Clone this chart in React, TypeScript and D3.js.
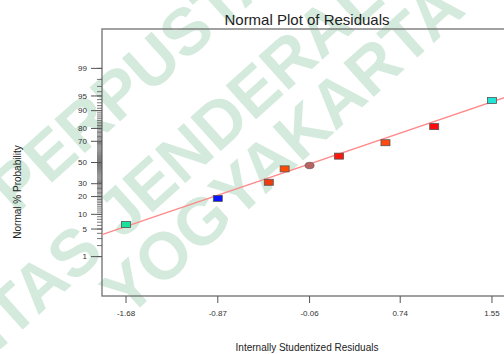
import React from "react";
import * as d3 from "d3";

// internally studentized residuals and their normal % probability
const residuals = [-1.68, -0.87, -0.42, -0.28, -0.06, 0.2, 0.61, 1.04, 1.55];
const probability = [6.25, 18.75, 31.25, 43.75, 47, 56.25, 68.75, 81.25, 93.75];
const pointColors = ["#19e39a", "#0a14ff", "#f03c0c", "#ff4a00", "#b86262", "#ff1608", "#ff4a10", "#ff0a0a", "#1ee6d6"];
const pointShapes = ["rect", "rect", "rect", "rect", "circle", "rect", "rect", "rect", "rect"];

const xTicks = [-1.68, -0.87, -0.06, 0.74, 1.55];
const yLabelTicks = [1, 5, 10, 20, 30, 50, 70, 80, 90, 95, 99];
const yMinorTicks = d3.range(1, 100);

// fitted normal line (z = a + b * residual)
const fitIntercept = 0.02;
const fitSlope = 0.954;

const watermarkColor = "#d3eadd";

// inverse normal cdf (Acklam)
function probit(p: number): number {
  const a = [-39.69683028665376, 220.9460984245205, -275.9285104469687, 138.357751867269, -30.66479806614716, 2.506628277459239];
  const b = [-54.47609879822406, 161.5858368580409, -155.6989798598866, 66.80131188771972, -13.28068155288572];
  const c = [-0.007784894002430293, -0.3223964580411365, -2.400758277161838, -2.549732539343734, 4.374664141464968, 2.938163982698783];
  const d = [0.007784695709041462, 0.3224671290700398, 2.445134137142996, 3.754408661907416];
  const pl = 0.02425;
  let q, r;
  if (p < pl) {
    q = Math.sqrt(-2 * Math.log(p));
    return (((((c[0] * q + c[1]) * q + c[2]) * q + c[3]) * q + c[4]) * q + c[5]) / ((((d[0] * q + d[1]) * q + d[2]) * q + d[3]) * q + 1);
  }
  if (p > 1 - pl) {
    q = Math.sqrt(-2 * Math.log(1 - p));
    return -(((((c[0] * q + c[1]) * q + c[2]) * q + c[3]) * q + c[4]) * q + c[5]) / ((((d[0] * q + d[1]) * q + d[2]) * q + d[3]) * q + 1);
  }
  q = p - 0.5;
  r = q * q;
  return ((((((a[0] * r + a[1]) * r + a[2]) * r + a[3]) * r + a[4]) * r + a[5]) * q) / (((((b[0] * r + b[1]) * r + b[2]) * r + b[3]) * r + b[4]) * r + 1);
}

function App() {
  const w = 504,
    h = 354,
    margin = { top: 29, left: 102, bottom: 58, right: -12 };

  const xScale = d3.scaleLinear()
    .domain([-1.892, 1.762])
    .range([margin.left, w - margin.right]);

  const zScale = d3.scaleLinear()
    .domain([-3.3, 3.3])
    .range([h - margin.bottom, margin.top]);

  const yOf = (pct: number) => zScale(probit(pct / 100));

  const x0 = xScale.domain()[0], x1 = xScale.domain()[1];
  const fitPath = d3.line<number>()
    .x(d => xScale(d))
    .y(d => zScale(fitIntercept + fitSlope * d))([x0, x1]);

  const bottom = h - margin.bottom;

  return (
    <div style={{ position: "fixed", left: 0, top: 0 }}>
      <svg width={w} height={h} style={{ display: "block", background: "#fff", fontFamily: "'Liberation Sans', Arial, sans-serif" }}>
        {/* watermark */}
        <g fill={watermarkColor} fontWeight="bold" fontSize={66} fontFamily="'Liberation Sans', Arial, sans-serif">
          <g transform="translate(16,215) rotate(-42)">
            <text x={0} y={0}>PERPUSTAKAAN</text>
          </g>
          <g transform="translate(122,240) rotate(-42)">
            <text x={0} y={0}>JENDERAL ACHMAD</text>
            <text x={-22} y={0} textAnchor="end">UNIVERSITAS</text>
          </g>
          <g transform="translate(127,319) rotate(-42)">
            <text x={0} y={0}>YOGYAKARTA</text>
          </g>
        </g>

        {/* frame */}
        <rect x={margin.left} y={margin.top} width={w - margin.right - margin.left} height={bottom - margin.top}
          fill="none" stroke="#7a7a7a" strokeWidth={1.4} />

        {/* y axis ticks */}
        {yMinorTicks.map(p => (
          <line key={"m" + p} x1={margin.left - 5} x2={margin.left} y1={yOf(p)} y2={yOf(p)} stroke="#555" strokeWidth={0.8} />
        ))}
        {yLabelTicks.map(p => (
          <g key={"y" + p}>
            <line x1={margin.left - 11} x2={margin.left} y1={yOf(p)} y2={yOf(p)} stroke="#555" strokeWidth={1} />
            <text x={margin.left - 15} y={yOf(p)} dy="0.33em" textAnchor="end" fontSize={8} fill="#333">{p}</text>
          </g>
        ))}

        {/* x axis ticks */}
        {xTicks.map(t => (
          <g key={"x" + t}>
            <line x1={xScale(t)} x2={xScale(t)} y1={bottom} y2={bottom + 7} stroke="#555" strokeWidth={1} />
            <text x={xScale(t)} y={bottom + 20} textAnchor="middle" fontSize={8} fill="#333">{t.toFixed(2)}</text>
          </g>
        ))}

        {/* fitted line */}
        <path d={fitPath || ""} fill="none" stroke="#ff8a8a" strokeWidth={1.3} />

        {/* points */}
        {residuals.map((r, i) => {
          const cx = xScale(r), cy = yOf(probability[i]);
          return pointShapes[i] === "circle" ? (
            <ellipse key={i} cx={cx} cy={cy} rx={4.5} ry={3.2} fill={pointColors[i]} stroke="#7a5a5a" strokeWidth={0.8} />
          ) : (
            <rect key={i} x={cx - 4.5} y={cy - 3} width={9} height={6} fill={pointColors[i]} stroke="#555" strokeWidth={0.8} />
          );
        })}

        {/* titles */}
        <text x={307} y={25} textAnchor="middle" fontSize={15} fill="#222">Normal Plot of Residuals</text>
        <text x={307} y={351} textAnchor="middle" fontSize={10} fill="#222">Internally Studentized Residuals</text>
        <text transform="translate(21,192) rotate(-90)" textAnchor="middle" fontSize={10} fill="#222">Normal % Probability</text>
      </svg>
    </div>
  );
}

export default App;
